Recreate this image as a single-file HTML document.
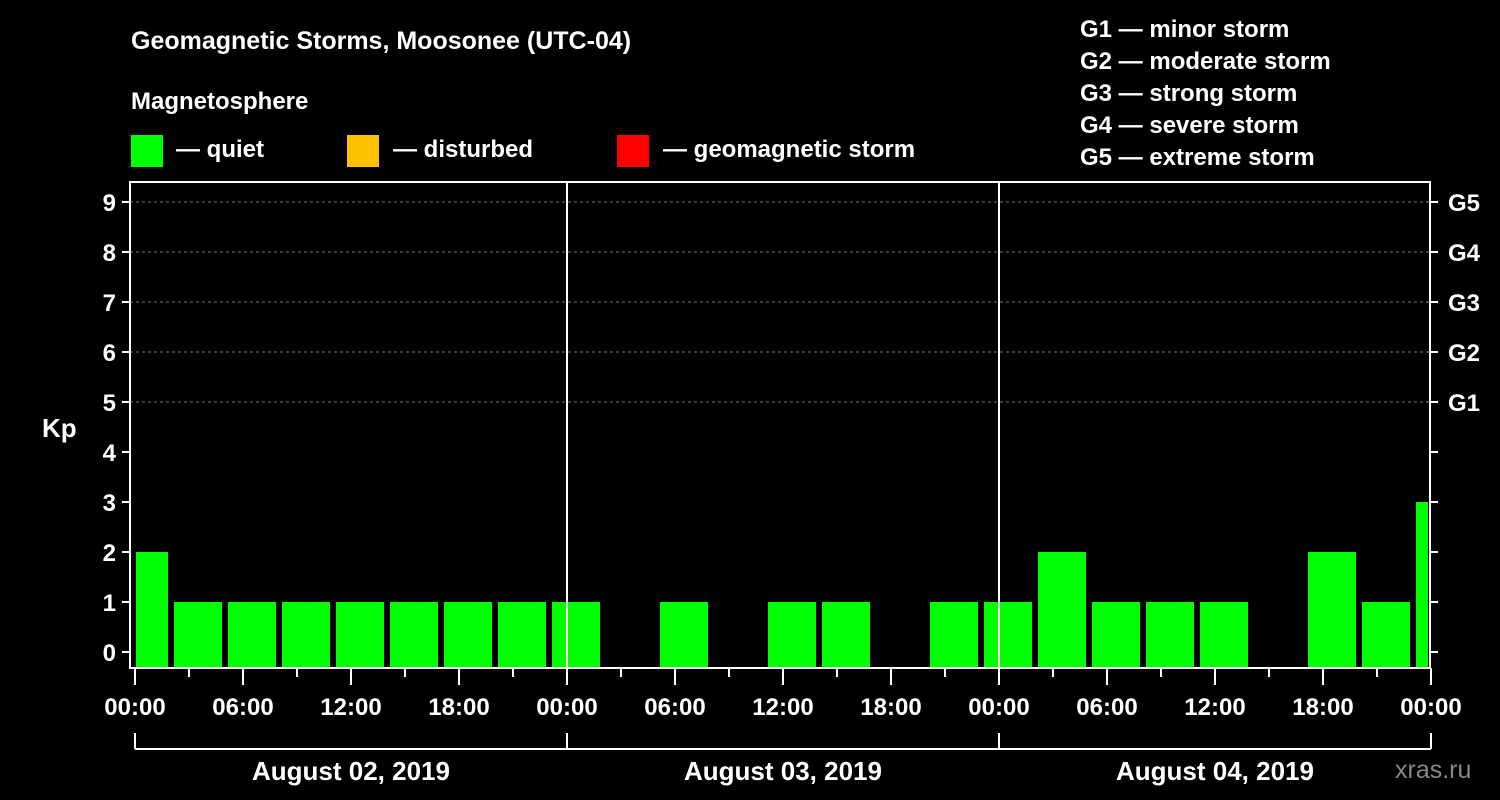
<!DOCTYPE html>
<html><head><meta charset="utf-8"><style>
body{margin:0;background:#000;}
svg{display:block;font-family:"Liberation Sans",Arial,sans-serif;font-weight:bold;}
</style></head><body>
<svg id="c" width="1500" height="800">
<rect width="1500" height="800" fill="#000"/>
<text x="131" y="49" fill="#fff" font-size="25">Geomagnetic Storms, Moosonee (UTC-04)</text>
<text x="131" y="109" fill="#fff" font-size="24">Magnetosphere</text>
<g><rect x="131" y="135" width="32" height="32" fill="#00ff00"/><text x="176" y="157" fill="#fff" font-size="24">— quiet</text></g>
<g><rect x="347" y="135" width="32" height="32" fill="#ffc000"/><text x="393" y="157" fill="#fff" font-size="24">— disturbed</text></g>
<g><rect x="617" y="135" width="32" height="32" fill="#ff0000"/><text x="663" y="157" fill="#fff" font-size="24">— geomagnetic storm</text></g>
<g fill="#fff" font-size="24">
<text x="1080" y="37">G1 — minor storm</text><text x="1080" y="69">G2 — moderate storm</text><text x="1080" y="101">G3 — strong storm</text><text x="1080" y="133">G4 — severe storm</text><text x="1080" y="165">G5 — extreme storm</text></g>
<text x="42" y="437" fill="#fff" font-size="26">Kp</text>
<text x="1395" y="778" fill="#888" font-size="25" font-weight="normal">xras.ru</text>
<g id="plot"></g>
</svg>
<script>
const values=[2,1,1,1,1,1,1,1,1,0,1,0,1,1,0,1,1,2,1,1,1,0,2,1,3];
const yTicks=[0,1,2,3,4,5,6,7,8,9];
const gLabels=["G1","G2","G3","G4","G5"];
const xLabels=["00:00","06:00","12:00","18:00"];
const days=["August 02, 2019","August 03, 2019","August 04, 2019"];
const firstBinHour=-1, binHours=3;
const L=130,R=1430,T=182,B=668,X0=135,PPH=18;
const yS=v=>652-v*50, xS=h=>X0+h*PPH;
const NS="http://www.w3.org/2000/svg", P=document.getElementById('plot');
function mk(t,a,txt){const e=document.createElementNS(NS,t);for(const k in a)e.setAttribute(k,a[k]);if(txt!=null)e.textContent=txt;P.appendChild(e);return e;}
yTicks.forEach(v=>{
 if(v>=5){const g=mk('line',{x1:L,x2:R,y1:yS(v),y2:yS(v),stroke:'#777','stroke-dasharray':'3,3'});
 
 }
 mk('line',{x1:L-8,x2:L,y1:yS(v),y2:yS(v),stroke:'#fff','stroke-width':2});
 mk('line',{x1:R,x2:R+8,y1:yS(v),y2:yS(v),stroke:'#fff','stroke-width':2});
 const t=mk('text',{x:L-14,y:yS(v)+9,fill:'#fff','font-size':24,'text-anchor':'end'},v);
 
 
});
gLabels.forEach((g,i)=>{const t=mk('text',{x:R+18,y:yS(5+i)+9,fill:'#fff','font-size':24},g);
 
 });
values.forEach((v,i)=>{
 if(v<=0)return;
 const h0=firstBinHour+i*binHours;
 let x1=Math.max(xS(h0)+3,X0+1), x2=Math.min(xS(h0+binHours)-3,R-2);
 const col=v>=5?'#ff0000':(v>=4?'#ffc000':'#00ff00');
 const b=mk('rect',{x:x1,y:yS(v),width:x2-x1,height:B-yS(v),fill:col});
 
 
});
mk('rect',{x:L,y:T,width:R-L,height:B-T,fill:'none',stroke:'#fff','stroke-width':2});
for(let d=1;d<days.length;d++)mk('line',{x1:xS(d*24),x2:xS(d*24),y1:T,y2:B,stroke:'#fff','stroke-width':2});
for(let h=0;h<=days.length*24;h+=3){
 mk('line',{x1:xS(h),x2:xS(h),y1:B,y2:B+(h%6==0?17:9),stroke:'#fff','stroke-width':2});
 if(h%6==0){const t=mk('text',{x:xS(h),y:715,fill:'#fff','font-size':24,'text-anchor':'middle'},xLabels[(h/6)%4]);
 
 }
}
mk('line',{x1:X0,x2:xS(days.length*24),y1:749,y2:749,stroke:'#fff','stroke-width':2});
for(let d=0;d<=days.length;d++)mk('line',{x1:xS(d*24),x2:xS(d*24),y1:733,y2:749,stroke:'#fff','stroke-width':2});
days.forEach((s,d)=>{const t=mk('text',{x:xS(d*24+12),y:780,fill:'#fff','font-size':26,'text-anchor':'middle'},s);
 
 });
</script>
</body></html>
